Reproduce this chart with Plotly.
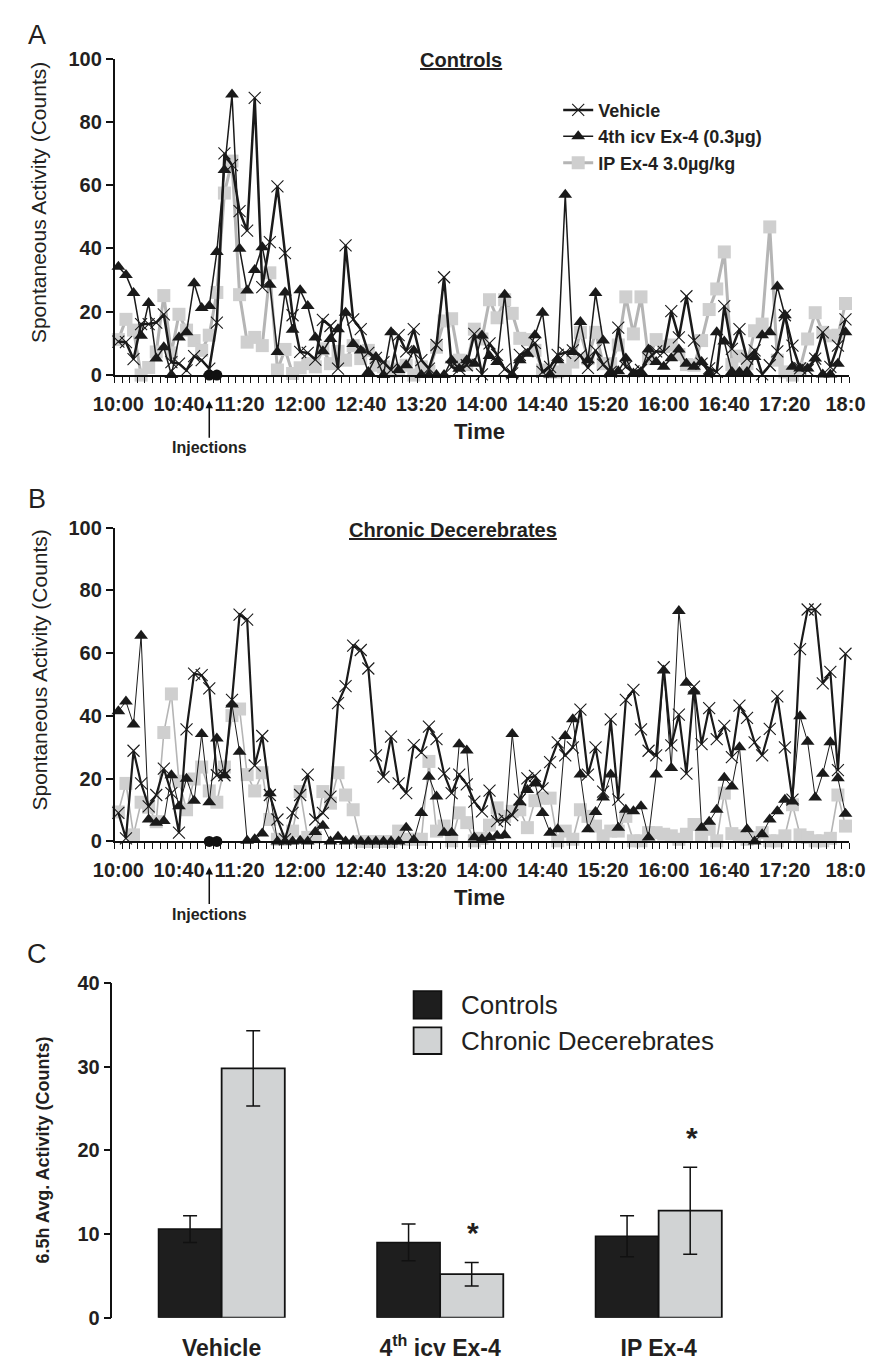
import plotly.graph_objects as go

W, H = 894, 1372
FONT = "Liberation Sans, Arial, Helvetica, sans-serif"
INK = "#231f20"

# ---------------- data ----------------
time_labels = ["10:00", "10:40", "11:20", "12:00", "12:40", "13:20", "14:00",
               "14:40", "15:20", "16:00", "16:40", "17:20", "18:0"]

# Panel A - Controls (5-min bins, 10:00 .. 18:00)
ctrl_vehicle = [10.6, 10.4, 5.0, 16.1, 16.1, 16.6, 19.2, 4.1, 3.6, 1.5,
                6.0, 4.7, 2.0, 16.6, 70.0, 66.3, 51.8, 45.6, 87.6, 27.8,
                42.0, 59.6, 38.5, 18.9, 7.3, 7.0, 4.9, 17.4, 15.5, 2.0,
                41.0, 17.6, 14.5, 7.0, 5.4, 4.1, 1.6, 12.6, 7.5, 14.5,
                4.7, 2.0, 9.5, 30.9, 2.6, 1.9, 3.1, 13.0, 0.2, 10.0,
                6.4, 1.9, 0.5, 6.4, 7.5, 10.2, 1.0, 2.6, 6.4, 7.0,
                7.8, 6.2, 2.3, 7.8, 3.3, 1.0, 15.0, 2.6, 1.2, 1.6,
                5.2, 7.5, 7.3, 20.2, 11.9, 24.9, 10.9, 3.6, 2.1, 1.0,
                21.8, 8.3, 14.5, 5.2, 7.8, 0.2, 3.1, 7.5, 18.9, 9.3,
                2.1, 1.6, 5.2, 13.5, 2.6, 9.3, 17.6]
ctrl_icv = [34.2, 31.6, 25.9, 12.4, 22.8, 5.2, 8.8, 0.0, 11.9, 13.5,
            29.0, 21.2, 21.8, 38.9, 64.8, 88.6, 39.9, 26.7, 33.2, 40.4,
            28.5, 7.3, 26.1, 14.3, 26.8, 21.8, 11.9, 7.5, 11.4, 14.5,
            19.7, 9.8, 7.8, 1.0, 5.7, 0.0, 13.5, 1.6, 3.1, 7.8,
            0.0, 0.0, 0.0, 0.0, 4.7, 2.0, 4.7, 3.6, 12.5, 6.0,
            4.1, 25.4, 0.0, 4.7, 6.7, 12.6, 19.7, 0.2, 4.7, 57.0,
            7.3, 16.8, 4.7, 25.9, 10.9, 1.0, 1.2, 5.2, 0.5, 1.0,
            8.1, 4.1, 2.6, 5.3, 8.1, 3.6, 2.6, 4.1, 0.5, 13.5,
            10.6, 1.0, 1.0, 1.0, 5.7, 12.6, 13.5, 28.0, 18.9, 2.6,
            2.1, 2.1, 5.2, 0.2, 0.2, 3.6, 13.5]
ctrl_ip = [11.2, 17.6, 14.2, 0.0, 2.4, 7.3, 25.1, 7.0, 19.2, 14.2,
           10.9, 7.8, 12.6, 26.1, 57.5, 67.6, 25.4, 10.4, 11.9, 9.3,
           32.3, 1.6, 8.1, 0.5, 2.3, 3.6, 2.6, 8.3, 3.6, 7.5,
           4.7, 9.3, 5.2, 7.8, 3.1, 2.6, 1.2, 1.9, 3.1, 0.0,
           2.6, 1.2, 8.8, 17.1, 17.8, 4.7, 3.3, 14.5, 11.4, 23.8,
           18.1, 23.8, 19.5, 11.6, 11.2, 7.8, 1.6, 1.0, 1.0, 1.6,
           4.1, 13.5, 5.2, 13.5, 3.6, 3.6, 9.5, 24.7, 13.0, 24.7,
           5.2, 11.2, 9.0, 9.5, 6.5, 3.3, 3.1, 10.9, 20.7, 27.2,
           38.9, 3.3, 6.0, 3.6, 14.0, 16.1, 46.8, 4.7, 1.0, 0.0,
           2.1, 11.4, 19.7, 13.5, 12.4, 12.6, 22.6]

# Panel B - Chronic decerebrates
dec_vehicle = [9.1, 1.0, 28.9, 18.5, 11.2, 14.8, 23.2, 15.4, 2.8, 35.7,
               53.5, 53.0, 48.8, 21.1, 21.1, 45.1, 72.3, 70.7, 24.2, 33.6,
               14.8, 7.0, 0.7, 9.1, 14.8, 21.3, 7.0, 9.1, 14.3, 44.1,
               49.5, 62.4, 61.0, 55.1, 27.4, 20.6, 33.4, 18.5, 15.4, 30.7,
               28.4, 36.6, 32.6, 21.6, 15.4, 21.3, 18.2, 12.7, 9.6, 16.2,
               6.5, 7.0, 8.4, 13.3, 20.1, 20.9, 16.9, 25.3, 31.6, 27.4,
               30.0, 42.0, 21.3, 30.0, 15.9, 38.9, 13.3, 45.1, 48.3, 35.7,
               28.9, 27.4, 55.5, 30.6, 40.4, 21.6, 49.3, 31.0, 42.5, 32.6,
               36.8, 26.9, 43.3, 39.4, 31.6, 27.4, 35.9, 46.2, 30.0, 13.3,
               61.3, 73.9, 73.9, 50.4, 54.0, 22.7, 59.8]
dec_icv = [41.5, 44.6, 37.3, 65.5, 7.0, 6.0, 6.5, 21.1, 11.2, 20.0,
           13.0, 34.2, 12.5, 32.8, 21.1, 43.6, 28.6, 0.2, 0.7, 2.5,
           15.4, 0.0, 0.0, 0.0, 0.2, 0.0, 3.0, 5.0, 0.0, 1.5,
           0.0, 0.2, 0.0, 0.0, 0.0, 0.0, 0.0, 0.0, 4.4, 0.5,
           9.1, 20.6, 14.3, 2.8, 2.8, 31.0, 29.0, 1.3, 0.7, 1.3,
           1.8, 2.0, 34.2, 12.5, 16.4, 18.5, 9.1, 2.8, 3.9, 33.6,
           38.9, 21.3, 3.9, 9.4, 14.0, 21.3, 4.4, 10.1, 9.6, 11.2,
           1.3, 21.3, 54.5, 23.4, 73.4, 50.6, 47.8, 4.4, 6.3, 10.1,
           20.3, 17.5, 30.0, 3.9, 0.0, 2.3, 7.0, 9.6, 13.3, 12.7,
           39.9, 31.8, 14.0, 21.6, 31.6, 20.1, 8.8]
dec_ip = [9.4, 18.5, 2.1, 12.5, 10.9, 6.3, 34.7, 47.0, 19.2, 10.1,
          19.9, 23.7, 16.1, 12.5, 23.7, 40.1, 42.2, 21.3, 16.1, 21.9,
          7.0, 0.7, 0.7, 3.3, 15.9, 1.3, 1.3, 15.9, 12.2, 21.9,
          14.8, 10.1, 0.0, 0.0, 0.0, 0.0, 0.0, 3.3, 0.7, 0.7,
          0.7, 25.5, 3.3, 4.9, 0.2, 9.1, 6.0, 0.2, 1.0, 5.2,
          10.7, 8.0, 9.6, 10.1, 4.4, 13.0, 13.8, 13.8, 0.2, 3.3,
          0.7, 10.1, 8.0, 4.9, 1.8, 3.3, 3.3, 8.0, 0.2, 0.2,
          2.8, 2.8, 2.3, 1.8, 0.7, 2.3, 5.4, 1.8, 3.9, 0.2,
          15.4, 2.5, 1.8, 0.7, 1.3, 2.8, 0.2, 0.2, 1.8, 11.7,
          2.1, 1.3, 0.2, 0.2, 1.0, 14.8, 4.9]

injection_idx = [12, 13]
injection_val = [0, 0]

# Panel C - 6.5 h averages
bar_groups = ["Vehicle", "4<sup>th</sup> icv Ex-4", "IP Ex-4"]
ctrl_mean = [10.6, 9.0, 9.75]
ctrl_err = [1.6, 2.2, 2.45]
dec_mean = [29.8, 5.2, 12.8]
dec_err = [4.5, 1.4, 5.2]
significant = [False, True, True]

# ---------------- helpers ----------------
idx = list(range(len(ctrl_vehicle)))


def px(x):
    return x / W


def py(y):
    return 1 - y / H


def f(size, bold=False):
    d = dict(family=FONT, size=size, color=INK)
    if bold:
        d["weight"] = "bold"
    return d


def note(text, x, y, size, bold=False, **kw):
    d = dict(text=text, x=px(x), y=py(y), xref="paper", yref="paper",
             xanchor="center", yanchor="middle", showarrow=False,
             font=f(size, bold))
    d.update(kw)
    return d


fig = go.Figure()

panels = [
    ("x", "y", ctrl_vehicle, ctrl_icv, ctrl_ip, True,
     dict(veh=2.5, icv=1.5, ip=3.0)),
    ("x2", "y2", dec_vehicle, dec_icv, dec_ip, False,
     dict(veh=2.2, icv=1.0, ip=1.6)),
]
for xa, ya, veh, icv, ip, show, lw in panels:
    fig.add_trace(go.Scatter(
        x=idx, y=ip, xaxis=xa, yaxis=ya, mode="lines+markers",
        name="IP Ex-4 3.0µg/kg", legendrank=3, showlegend=show,
        line=dict(color="#b5b5b5", width=lw["ip"]),
        marker=dict(symbol="square", size=13, color="#cfcfcf",
                    line=dict(width=0)),
        cliponaxis=False))
    fig.add_trace(go.Scatter(
        x=idx, y=veh, xaxis=xa, yaxis=ya, mode="lines+markers",
        name="Vehicle", legendrank=1, showlegend=show,
        line=dict(color="#1a1a1a", width=lw["veh"]),
        marker=dict(symbol="x-thin", size=12, color="#1a1a1a",
                    line=dict(width=1.1, color="#1a1a1a")),
        cliponaxis=False))
    fig.add_trace(go.Scatter(
        x=idx, y=icv, xaxis=xa, yaxis=ya, mode="lines+markers",
        name="4th icv Ex-4 (0.3µg)", legendrank=2, showlegend=show,
        line=dict(color="#1a1a1a", width=lw["icv"]),
        marker=dict(symbol="triangle-up", size=12, color="#1a1a1a"),
        cliponaxis=False))
    fig.add_trace(go.Scatter(
        x=injection_idx, y=injection_val, xaxis=xa, yaxis=ya, mode="markers",
        showlegend=False, marker=dict(symbol="circle", size=11, color="#111111"),
        cliponaxis=False))

# Panel C bars
fig.add_trace(go.Bar(
    x=bar_groups, y=ctrl_mean, xaxis="x3", yaxis="y3", showlegend=False,
    name="Controls",
    marker=dict(color="#1e1e1e", line=dict(color="#111111", width=1.5)),
    error_y=dict(type="data", array=ctrl_err, color="#111111",
                 thickness=1.5, width=7)))
fig.add_trace(go.Bar(
    x=bar_groups, y=dec_mean, xaxis="x3", yaxis="y3", showlegend=False,
    name="Chronic Decerebrates",
    marker=dict(color="#d1d3d4", line=dict(color="#111111", width=1.8)),
    error_y=dict(type="data", array=dec_err, color="#111111",
                 thickness=1.5, width=7)))

# ---------------- axes ----------------
time_tickvals = idx[::8]
xline = dict(
    range=[-0.5, len(idx) - 0.5], tickvals=time_tickvals, ticktext=time_labels,
    ticks="", showline=True, linecolor="#111111", linewidth=1.5,
    showgrid=False, zeroline=False, tickfont=f(20, True),
    ticklabelstandoff=10,
    minor=dict(ticks="outside", ticklen=6, tickwidth=1, tickcolor="#111111",
               tick0=-0.5, dtick=1, showgrid=False))
yline = dict(
    range=[0, 100], tickvals=[0, 20, 40, 60, 80, 100], ticks="outside",
    ticklen=7, tickwidth=1.5, tickcolor="#111111", showline=True,
    linecolor="#111111", linewidth=1.5, showgrid=False, zeroline=False,
    tickfont=f(20, True))

fig.update_layout(
    xaxis=dict(xline, domain=[px(96.7), px(864)], anchor="y"),
    yaxis=dict(yline, domain=[py(370), py(48.3)], anchor="x"),
    xaxis2=dict(xline, domain=[px(96.7), px(864)], anchor="y2"),
    yaxis2=dict(yline, domain=[py(844), py(525)], anchor="x2"),
    xaxis3=dict(domain=[px(94.4), px(779)], anchor="y3", type="category",
                range=[-0.5, 2.5], ticks="", showline=False, showgrid=False,
                zeroline=False, tickfont=f(23, True), ticklabelstandoff=14),
    yaxis3=dict(domain=[py(1328), py(988)], anchor="x3", range=[0, 40],
                tickvals=[0, 10, 20, 30, 40], ticks="outside", ticklen=7,
                tickwidth=1.5, tickcolor="#111111", showline=True,
                linecolor="#111111", linewidth=1.5, showgrid=False,
                zeroline=False, tickfont=f(20, True)),
    barmode="group", bargap=0.422, bargroupgap=0,
)

# ---------------- annotations ----------------
ann = []
for letter, y in [("A", 24), ("B", 496), ("C", 958)]:
    ann.append(note(letter, 16, y, 27))
ann.append(note("<u>Controls</u>", 458, 50, 20, True))
ann.append(note("<u>Chronic Decerebrates</u>", 450, 527, 20, True))
for ytime, yarrow, xr in [(427, 396, "x"), (901, 870, "x2")]:
    ann.append(note("Time", 478, ytime, 22, True))
    ann.append(dict(text="Injections", x=injection_idx[0], y=py(yarrow),
                    xref=xr, yref="paper", xanchor="center", yanchor="middle",
                    showarrow=True, ax=0, ay=47,
                    arrowhead=2, arrowsize=1, arrowwidth=1.5,
                    arrowcolor="#111111", font=f(16, True)))
for yc in [195, 670]:
    ann.append(note("Spontaneous Activity (Counts)", 18, yc, 21,
                    textangle=-90))
ann.append(note("6.5h Avg. Activity (Counts)", 22, 1158, 18, True,
                textangle=-90))
# significance stars above the decerebrate bars
for g, m, e, s in zip(bar_groups, dec_mean, dec_err, significant):
    if s:
        ann.append(dict(text="*", x=g, y=m + e, xref="x3", yref="y3",
                        xanchor="center", yanchor="middle",
                        xshift=33, yshift=30, showarrow=False,
                        font=f(30, True)))

# Panel C legend (manual swatches)
shapes = []
for (label, color), (y0, y1) in zip(
        [("Controls", "#1e1e1e"), ("Chronic Decerebrates", "#d1d3d4")],
        [(996, 1024), (1033, 1060)]):
    shapes.append(dict(type="rect", xref="paper", yref="paper",
                       x0=px(409), x1=px(438), y0=py(y1), y1=py(y0),
                       fillcolor=color, line=dict(color="#111111", width=1.8)))
    ann.append(note(label, 456, (y0 + y1) / 2, 26, xanchor="left"))

fig.update_layout(
    width=W, height=H, margin=dict(l=0, r=0, t=0, b=0),
    paper_bgcolor="white", plot_bgcolor="white",
    annotations=ann, shapes=shapes,
    showlegend=True,
    legend=dict(x=px(560), y=py(82), xanchor="left", yanchor="top",
                font=f(18, True), bgcolor="rgba(0,0,0,0)", itemwidth=30,
                tracegroupgap=0, traceorder="normal"),
)

fig.write_html("out.html")
